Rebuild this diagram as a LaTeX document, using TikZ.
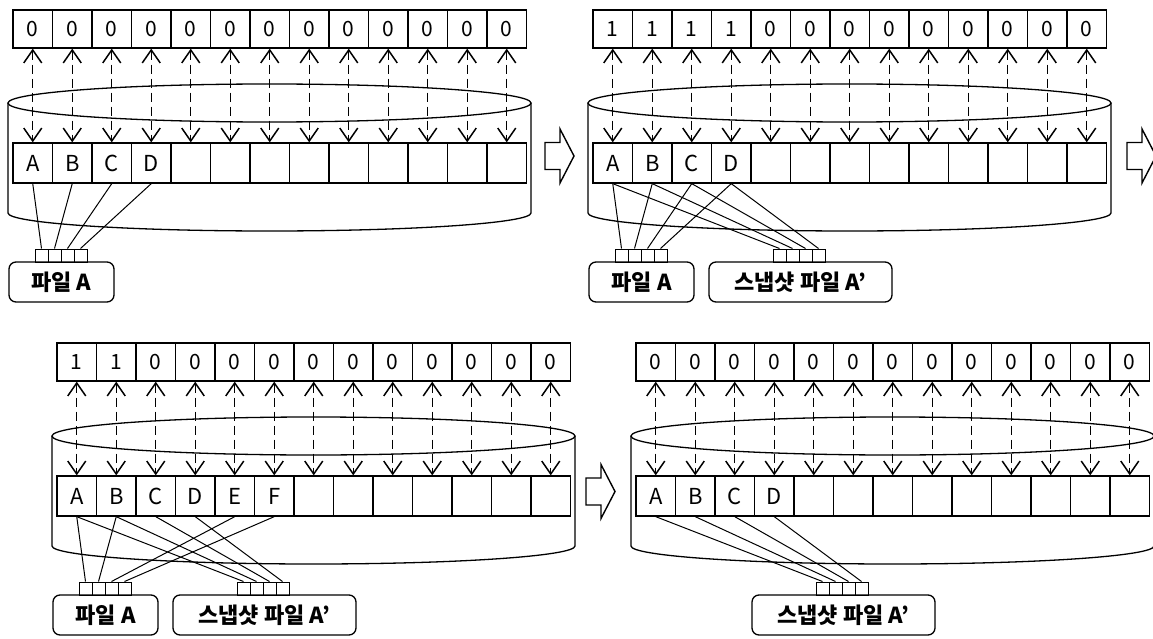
\documentclass[tikz,border=0pt]{standalone}
\usepackage{fontspec}
\setmainfont{Noto Sans CJK KR}
\usetikzlibrary{arrows.meta,positioning}

\begin{document}
\begin{tikzpicture}[x=1pt, y=-1pt,
    bitcell/.style={rectangle, draw, line width=1.3pt, minimum width=39.5pt, minimum height=38pt, inner sep=0pt, font=\fontsize{21}{21}\selectfont},
    blkcell/.style={rectangle, draw, line width=1.3pt, minimum width=39.5pt, minimum height=40pt, inner sep=0pt},
    blktext/.style={inner sep=0pt, font=\fontsize{22}{22}\selectfont},
    ptr/.style={rectangle, draw, line width=1pt, minimum width=13pt, minimum height=13pt, inner sep=0pt},
    filebox/.style={rectangle, draw, line width=1.3pt, rounded corners=7pt, minimum height=40pt, inner sep=0pt, font=\fontsize{22}{22}\selectfont\bfseries},
    map/.style={line width=1.2pt, dash pattern=on 9pt off 5pt, {Straight Barb[length=13pt,width=18pt,line width=1.5pt]}-{Straight Barb[length=13pt,width=18pt,line width=1.5pt]}},
    ptrline/.style={line width=1pt},
    disk/.style={line width=1.3pt},
    pics/stagearrow/.style={code={
      \draw[line width=1.4pt, line join=miter] (0,-13.5) -- (15,-13.5) -- (15,-27) -- (29,0)
        -- (15,27) -- (15,13.5) -- (0,13.5) -- cycle;}}
]
\useasboundingbox (0,0) rectangle (1153,639);

% Four stages: bitmap row, disk with block row
\foreach \p/\xo/\yo/\bits in {1/13/10/{0,0,0,0,0,0,0,0,0,0,0,0,0},
                              2/593/10/{1,1,1,1,0,0,0,0,0,0,0,0,0},
                              3/57/343/{1,1,0,0,0,0,0,0,0,0,0,0,0},
                              4/636/343/{0,0,0,0,0,0,0,0,0,0,0,0,0}} {
  \draw[disk] (\xo+256.5,\yo+93) ellipse [x radius=261.5, y radius=19];
  \draw[disk] (\xo-5,\yo+93) -- (\xo-5,\yo+203)
    arc[start angle=180, end angle=0, x radius=261.5, y radius=18] -- (\xo+518,\yo+93);
  \foreach \b [count=\i] in \bits {
    \node[bitcell] (b\p-\i) at ({\xo+(\i-0.5)*39.5},\yo+19) {\b};
    \node[blkcell] (d\p-\i) at ({\xo+(\i-0.5)*39.5},\yo+153) {};
    \draw[map] (b\p-\i) -- (d\p-\i);
  }
}

% Block names
\foreach \p/\blocks in {1/{A,B,C,D}, 2/{A,B,C,D}, 3/{A,B,C,D,E,F}, 4/{A,B,C,D}}
  \foreach \l [count=\i] in \blocks
    \node[blktext] (t\p-\i) at (d\p-\i) {\l};

% File A and its block pointers
\foreach \p/\xo/\yo in {1/13/10, 2/593/10, 3/57/343} {
  \node[filebox, minimum width=105pt] (fa\p) at (\xo+48.5,\yo+272) {파일 A};
  \foreach \k in {1,...,4}
    \node[ptr] (fa\p-\k) at (\xo+15.5+13*\k,\yo+245.5) {};
}

% Snapshot A' and its block pointers
\foreach \p/\xo/\yo in {2/593/10, 3/57/343, 4/636/343} {
  \node[filebox, minimum width=183pt] (sa\p) at (\xo+207.5,\yo+272) {스냅샷 파일 A'};
  \foreach \k in {1,...,4}
    \node[ptr] (sa\p-\k) at (\xo+173.5+13*\k,\yo+245.5) {};
}

% Pointers from files to blocks
\foreach \k in {1,...,4} {
  \draw[ptrline] (d1-\k.south) -- (fa1-\k.north);
  \draw[ptrline] (d2-\k.south) -- (fa2-\k.north);
  \draw[ptrline] (d2-\k.south) -- (sa2-\k.north);
  \draw[ptrline] (d3-\k.south) -- (sa3-\k.north);
  \draw[ptrline] (d4-\k.south) -- (sa4-\k.north);
}
\foreach \i/\k in {1/1, 2/2, 5/3, 6/4}
  \draw[ptrline] (d3-\i.south) -- (fa3-\k.north);

% Stage arrows
\pic (go1) at (545,156) {stagearrow};
\pic (go2) at (1127,156) {stagearrow};
\pic (go3) at (586,491.5) {stagearrow};

\end{tikzpicture}
\end{document}
